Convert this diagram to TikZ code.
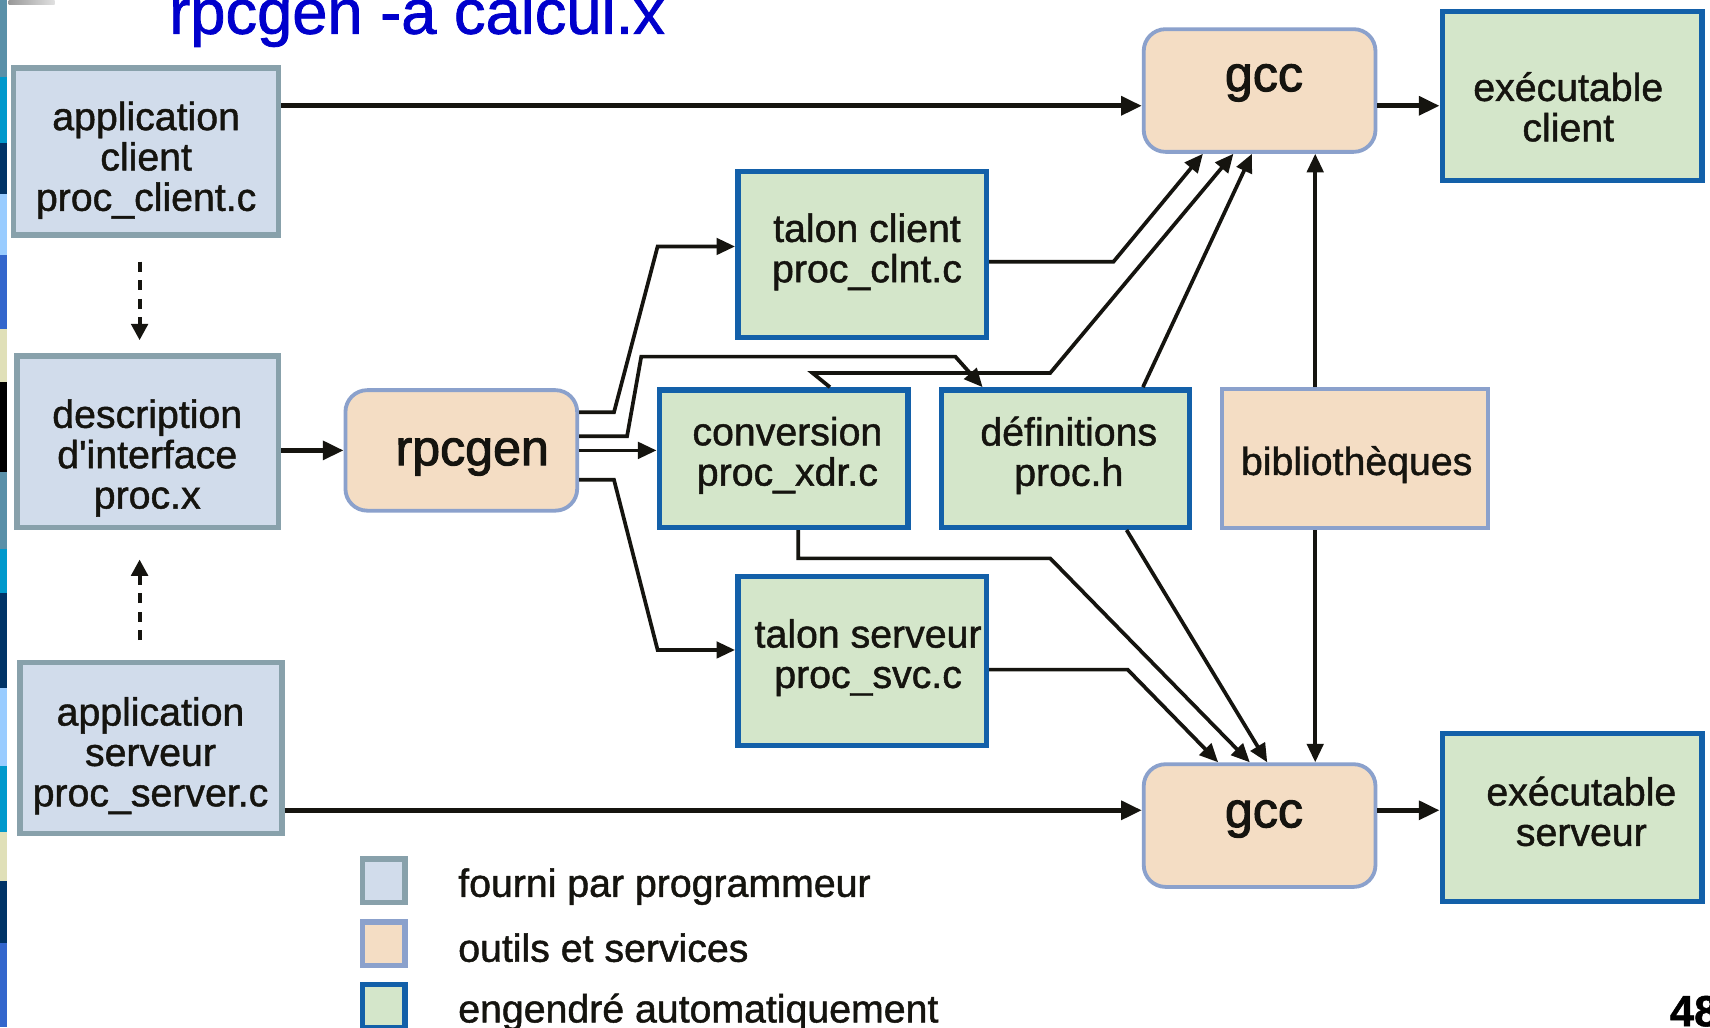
\documentclass[tikz,border=0pt]{standalone}
\usepackage{fontspec}
\setmainfont{Liberation Sans}[FakeBold=1.2]
\newfontfamily\heavyfont{Liberation Sans}[FakeBold=2]
\usetikzlibrary{arrows.meta,calc}

\definecolor{progfill}{HTML}{D1DCEB}
\definecolor{progline}{HTML}{88A1AB}
\definecolor{toolfill}{HTML}{F4DDC4}
\definecolor{toolline}{HTML}{8BA1CC}
\definecolor{genfill}{HTML}{D4E6CA}
\definecolor{genline}{HTML}{1360A9}
\definecolor{ink}{HTML}{15140F}
\definecolor{titleblue}{HTML}{0000CC}
\definecolor{stripA}{HTML}{5A90A8}
\definecolor{stripB}{HTML}{0099CC}
\definecolor{stripC}{HTML}{003366}
\definecolor{stripD}{HTML}{99CCFF}
\definecolor{stripE}{HTML}{3366CC}
\definecolor{stripF}{HTML}{E0E0B8}

\begin{document}
\begin{tikzpicture}[x=1pt,y=1pt,
  box/.style={draw, inner sep=0pt},
  prog/.style={box, fill=progfill, draw=progline, line width=5pt},
  tool/.style={box, fill=toolfill, draw=toolline, line width=3.5pt},
  rtool/.style={tool, rounded corners=20pt},
  gen/.style={box, fill=genfill, draw=genline, line width=5pt},
  lbl/.style={font=\fontsize{36}{37}\selectfont, align=center, text=ink, inner sep=0pt},
  big/.style={font=\heavyfont\fontsize{46}{48}\selectfont, text=ink, inner sep=0pt},
  legtxt/.style={font=\fontsize{36}{37}\selectfont, text=ink, inner sep=0pt, anchor=west},
  arr/.style={draw=ink, line width=4.2pt, -{Triangle[length=19pt,width=17pt]}},
  link/.style={draw=ink, line width=3.4pt, -{Triangle[length=17pt,width=15pt]}},
  dasharr/.style={draw=ink, line width=3.8pt, dash pattern=on 9pt off 8pt, -{Triangle[length=15pt,width=15pt]}}
]
\useasboundingbox (0,0) rectangle (1568,-942);
\clip (0,0) rectangle (1568,-942);
\fill[white] (0,0) rectangle (1568,-942);

% slide decoration: coloured strip on the left edge
\fill[stripA] (0,0) rectangle (6,-71);
\fill[stripB] (0,-71) rectangle (6,-131);
\fill[stripC] (0,-131) rectangle (6,-178);
\fill[stripD] (0,-178) rectangle (6,-234);
\fill[stripE] (0,-234) rectangle (6,-302);
\fill[stripF] (0,-302) rectangle (6,-350);
\fill[black]  (0,-350) rectangle (6,-433);
\fill[stripA] (0,-433) rectangle (6,-503);
\fill[stripB] (0,-503) rectangle (6,-544);
\fill[stripC] (0,-544) rectangle (6,-631);
\fill[stripD] (0,-631) rectangle (6,-702);
\fill[stripB] (0,-702) rectangle (6,-763);
\fill[stripF] (0,-763) rectangle (6,-808);
\fill[stripC] (0,-808) rectangle (6,-865);
\fill[stripE] (0,-865) rectangle (6,-942);
\shade[left color=black!40, right color=black!12] (8,0) rectangle (50,-4);

% title
\node[anchor=base west, inner sep=0pt, text=titleblue, font=\fontsize{58}{60}\selectfont] (title) at (155,-31) {rpcgen -a calcul.x};

% boxes
\node[prog, minimum width=243pt, minimum height=153pt] (appclient) at (134,-139) {};
\node[prog, minimum width=240pt, minimum height=157pt] (desc) at (135.5,-405) {};
\node[prog, minimum width=240pt, minimum height=157pt] (appserver) at (138.5,-686) {};
\node[rtool, minimum width=212.5pt, minimum height=110.5pt] (rpcgen) at (423,-413) {};
\node[gen, minimum width=228pt, minimum height=152pt] (talonC) at (790.5,-233.5) {};
\node[gen, minimum width=228pt, minimum height=126pt] (conv) at (718.5,-420.5) {};
\node[gen, minimum width=227pt, minimum height=126pt] (def) at (977,-420.5) {};
\node[gen, minimum width=228pt, minimum height=155pt] (talonS) at (790.5,-606) {};
\node[tool, minimum width=243.5pt, minimum height=127.5pt] (bib) at (1242.5,-420.5) {};
\node[rtool, minimum width=212.5pt, minimum height=112.5pt] (gccT) at (1155,-83) {};
\node[rtool, minimum width=212.5pt, minimum height=112.5pt] (gccB) at (1155,-757) {};
\node[gen, minimum width=238pt, minimum height=155pt] (exeC) at (1441.5,-88) {};
\node[gen, minimum width=238pt, minimum height=154pt] (exeS) at (1441.5,-749.5) {};

% box texts
\node[lbl] (appclient-t) at (134,-147) {application\\client\\proc\_client.c};
\node[lbl] (desc-t) at (135,-420) {description\\d\textquotesingle interface\\proc.x};
\node[lbl] (appserver-t) at (138,-693) {application\\serveur\\proc\_server.c};
\node[big] (rpcgen-t) at (433,-419) {rpcgen};
\node[lbl] (talonC-t) at (795,-231) {talon client\\proc\_clnt.c};
\node[lbl] (conv-t) at (722,-417.5) {conversion\\proc\_xdr.c};
\node[lbl] (def-t) at (980,-417.5) {définitions\\proc.h};
\node[lbl] (talonS-t) at (796,-603) {talon serveur\\proc\_svc.c};
\node[lbl] (bib-t) at (1244,-426) {bibliothèques};
\node[big] (gccT-t) at (1159,-76) {gcc};
\node[big] (gccB-t) at (1159,-751) {gcc};
\node[lbl] (exeC-t) at (1438,-98) {exécutable\\client};
\node[lbl] (exeS-t) at (1450,-744) {exécutable\\serveur};

% client and server compilation chains
\coordinate (c1) at ($(gccT.west)+(0,-14)$);
\draw[arr] (c1 -| appclient.east) -- (c1);
\draw[arr] (c1 -| gccT.east) -- (c1 -| exeC.west);
\coordinate (c2) at ($(gccB.west)+(0,14)$);
\draw[arr] (c2 -| appserver.east) -- (c2);
\draw[arr] (c2 -| gccB.east) -- (c2 -| exeS.west);
\draw[arr] (rpcgen.west -| desc.east) -- (rpcgen.west);

% the applications depend on the interface description
\draw[dasharr] ($(appclient.south)+(-6,-22)$) -- ($(desc.north)+(-7.5,12)$);
\draw[dasharr] ($(appserver.north)+(-10.5,18)$) -- ($(desc.south)+(-7.5,-27)$);

% files generated by rpcgen
\draw[link] ($(rpcgen.east)+(0,35)$) -- ++(32,0) -- ($(talonC.west)+(-71,7.5)$) -- ($(talonC.west)+(0,7.5)$);
\draw[link] ($(rpcgen.east)+(0,13)$) -- ++(44,0) -- ++(13,73) -- ($(def.north)+(-101,28)$) -- ($(def.north)+(-76,0)$);
\draw[link] (rpcgen.east) -- (rpcgen.east -| conv.west);
\draw[link] ($(rpcgen.east)+(0,-27)$) -- ++(32,0) -- ($(talonS.west)+(-71,10)$) -- ($(talonS.west)+(0,10)$);

% inputs of the client gcc
\draw[link] ($(talonC.east)+(0,-6.5)$) -- ++(114,0) -- ($(gccT.south)+(-52,0)$);
\draw[link] ($(conv.north)+(42.5,0)$) -- ++(-16,13) -- ++(218,0) -- ($(gccT.south)+(-24,0)$);
\draw[link] ($(def.north)+(71,0)$) -- ($(gccT.south)+(-7,0)$);
\coordinate (bx) at ($(bib.north)+(-36.5,0)$);
\draw[link] (bx) -- (bx |- gccT.south);

% inputs of the server gcc
\draw[link] (bx |- bib.south) -- (bx |- gccB.north);
\draw[link] ($(talonS.east)+(0,-8)$) -- ++(127,0) -- ($(gccB.north)+(-38,0)$);
\draw[link] ($(conv.south)+(13.5,0)$) -- ++(0,-26) -- ++(231,0) -- ($(gccB.north)+(-9,0)$);
\draw[link] ($(def.south)+(56,0)$) -- ($(gccB.north)+(7,0)$);

% legend
\node[prog, minimum width=39pt, minimum height=40pt] (leg1) at (352,-807.5) {};
\node[tool, line width=5pt, minimum width=39pt, minimum height=40pt] (leg2) at (352,-865.5) {};
\node[gen, minimum width=39pt, minimum height=40pt] (leg3) at (352,-922.5) {};
\node[legtxt] (leg1-t) at (420,-813) {fourni par programmeur};
\node[legtxt] (leg2-t) at (420,-869) {outils et services};
\node[legtxt] (leg3-t) at (420,-928) {engendré automatiquement};

% page number
\node[anchor=base west, inner sep=0pt, text=black, font=\fontsize{40}{42}\selectfont\bfseries] (pagenum) at (1531,-941) {48};
\end{tikzpicture}
\end{document}
